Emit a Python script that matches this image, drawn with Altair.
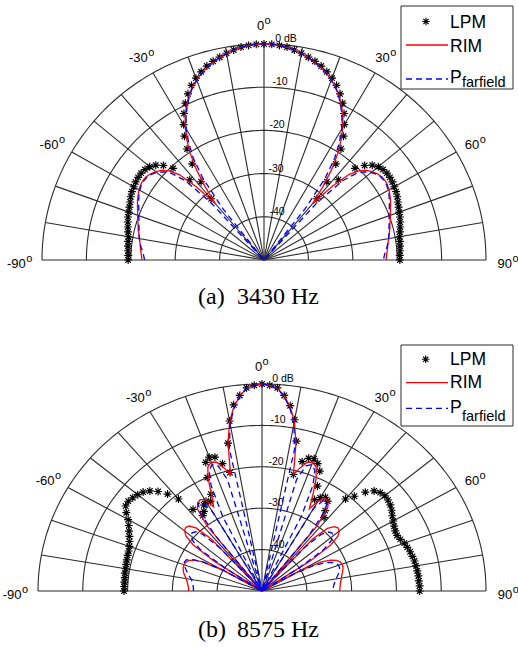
import numpy as np
import pandas as pd
import altair as alt

# ---------------- data (dB vs angle, -90..90 deg, 2 deg steps) ----------------
ANGLES = list(range(-90, 91, 2))

TOP_LPM = [
    -19.4, -19.4, -19.3, -19.2, -19.1, -19.0, -18.7, -18.4, -18.1, -17.8,
    -17.6, -17.3, -17.0, -16.6, -16.3, -16.1, -15.9, -15.8, -15.8, -16.0,
    -16.4, -17.2, -18.5, -20.5, -25.0, -31.5, -27.0, -22.5, -19.0, -16.2,
    -13.8, -11.6, -9.6, -7.9, -6.4, -5.2, -4.2, -3.3, -2.6, -2.0,
    -1.4, -0.9, -0.45, -0.2, -0.05, 0.0, -0.05, -0.2, -0.45, -0.9,
    -1.4, -2.0, -2.6, -3.3, -4.2, -5.2, -6.4, -7.9, -9.6, -11.6,
    -13.8, -16.2, -19.0, -22.5, -27.0, -31.5, -25.0, -20.5, -18.5, -17.2,
    -16.4, -16.0, -15.8, -15.8, -15.9, -16.1, -16.3, -16.6, -17.0, -17.3,
    -17.6, -17.8, -18.1, -18.4, -18.7, -19.0, -19.1, -19.2, -19.3, -19.4,
    -19.4]

TOP_RIM = [
    -22.5, -22.4, -22.2, -22.0, -21.8, -21.5, -21.2, -20.8, -20.5, -20.1,
    -19.7, -19.3, -18.8, -18.3, -17.9, -17.5, -17.2, -17.1, -17.2, -17.6,
    -18.2, -19.0, -20.3, -22.5, -27.0, -33.0, -28.5, -24.0, -20.3, -17.2,
    -14.5, -12.2, -10.2, -8.4, -6.9, -5.6, -4.5, -3.6, -2.8, -2.1,
    -1.5, -0.9, -0.5, -0.2, -0.05, 0.0, -0.05, -0.2, -0.5, -0.9,
    -1.5, -2.1, -2.8, -3.6, -4.5, -5.6, -6.9, -8.4, -10.2, -12.2,
    -14.5, -17.2, -20.3, -24.0, -28.5, -33.0, -27.0, -22.5, -20.3, -19.0,
    -18.2, -17.6, -17.2, -17.1, -17.2, -17.5, -17.9, -18.3, -18.8, -19.3,
    -19.7, -20.1, -20.5, -20.8, -21.2, -21.5, -21.8, -22.0, -22.2, -22.4,
    -22.5]

TOP_PFAR = [
    -23.1, -22.9, -22.6, -22.2, -21.8, -21.5, -21.2, -21.0, -20.7, -20.4,
    -20.0, -19.6, -19.1, -18.6, -18.1, -17.7, -17.4, -17.3, -17.4, -17.8,
    -18.5, -19.5, -21.2, -24.5, -32.0, -50.0, -35.0, -26.5, -21.5, -18.0,
    -15.0, -12.6, -10.5, -8.6, -7.0, -5.7, -4.6, -3.6, -2.8, -2.1,
    -1.5, -0.9, -0.5, -0.2, -0.05, 0.0, -0.05, -0.2, -0.5, -0.9,
    -1.5, -2.1, -2.8, -3.6, -4.6, -5.7, -7.0, -8.6, -10.5, -12.6,
    -15.0, -18.0, -21.5, -26.5, -35.0, -50.0, -32.0, -24.5, -21.2, -19.5,
    -18.5, -17.8, -17.4, -17.3, -17.4, -17.7, -18.1, -18.6, -19.1, -19.6,
    -20.0, -20.4, -20.7, -21.0, -21.2, -21.5, -21.8, -22.2, -22.6, -22.9,
    -23.1]

BOT_LPM = [
    -19.2, -19.2, -19.2, -19.2, -19.1, -19.1, -19.0, -18.9, -18.8, -18.7,
    -18.5, -18.1, -17.6, -17.0, -16.3, -15.5, -14.3, -13.3, -13.1, -13.4,
    -13.8, -14.3, -15.2, -16.6, -18.5, -21.0, -25.0, -27.5, -26.8, -25.5,
    -25.0, -25.5, -24.0, -20.0, -16.5, -15.6, -16.0, -18.0, -20.5, -13.5,
    -8.3, -4.6, -2.5, -0.8, -0.3, 0.0, -0.3, -0.8, -2.5, -4.8,
    -8.0, -13.0, -21.0, -17.5, -16.3, -16.0, -16.8, -18.3, -21.8, -25.0,
    -24.0, -23.3, -23.8, -26.0, -27.5, -21.0, -19.2, -16.8, -15.2, -14.5,
    -14.2, -14.3, -14.6, -15.1, -15.7, -16.2, -16.6, -16.9, -17.0, -16.7,
    -16.2, -15.9, -15.6, -15.4, -15.2, -15.1, -15.0, -14.9, -14.9, -14.8,
    -14.8]

BOT_RIM = [
    -33.6, -33.6, -33.5, -33.3, -33.1, -32.8, -32.4, -32.0, -31.7, -31.5,
    -31.5, -31.6, -32.0, -33.0, -35.0, -40.0, -50.0, -37.0, -31.0, -28.5,
    -27.4, -27.1, -27.4, -28.8, -33.0, -50.0, -30.0, -25.5, -24.3, -24.0,
    -24.5, -27.0, -24.5, -20.5, -17.7, -16.9, -17.3, -19.0, -21.0, -13.5,
    -8.4, -5.0, -2.6, -0.9, -0.3, 0.0, -0.3, -0.9, -2.6, -5.0,
    -8.4, -13.5, -21.0, -19.0, -17.3, -16.9, -17.7, -20.3, -24.0, -27.5,
    -25.0, -23.6, -23.6, -25.0, -30.0, -50.0, -33.0, -29.0, -27.6, -27.2,
    -27.5, -28.5, -31.0, -37.0, -50.0, -40.0, -35.0, -33.0, -31.8, -31.2,
    -31.0, -31.0, -31.2, -31.5, -31.8, -32.0, -32.2, -32.4, -32.5, -32.6,
    -32.7]

BOT_PFAR = [
    -34.7, -34.7, -34.6, -34.5, -34.3, -34.0, -33.5, -33.0, -32.5, -32.0,
    -31.5, -31.3, -31.5, -32.5, -35.0, -40.0, -50.0, -40.0, -33.0, -30.5,
    -29.3, -29.0, -29.4, -31.0, -36.0, -50.0, -33.0, -26.5, -24.5, -24.8,
    -27.5, -50.0, -30.0, -22.0, -18.5, -17.5, -18.2, -22.0, -50.0, -15.0,
    -9.0, -5.3, -2.8, -1.0, -0.3, 0.0, -0.3, -1.0, -2.8, -5.3,
    -9.0, -15.0, -50.0, -22.0, -18.2, -17.5, -18.5, -22.0, -30.0, -50.0,
    -27.0, -24.3, -24.0, -26.0, -33.0, -50.0, -36.0, -31.0, -29.5, -29.0,
    -29.3, -30.5, -33.0, -40.0, -50.0, -42.0, -37.0, -34.5, -33.0, -32.2,
    -31.8, -31.8, -32.0, -32.4, -32.8, -33.2, -33.5, -33.8, -34.0, -34.1,
    -34.2]

RING_DB = [-40, -30, -20, -10, 0]
RING_TEXT = ["-40", "-30", "-20", "-10", "0 dB"]
SPOKES = list(range(-90, 91, 10))
ANGLE_TICKS = [-90, -60, -30, 0, 30, 60, 90]
ANGLE_TEXT = ["-90", "-60", "-30", "0", "30", "60", "90"]
SERIES = ["LPM", "RIM", "P"]
SUBSCRIPT = "farfield"
CAPTION_TAG = ["(a)", "(b)"]
CAPTION_FREQ = ["3430 Hz", "8575 Hz"]

# ---------------- style / layout ----------------
DB_MIN = -50.0
R_MAX = 50.0
R_LABEL = 55.0
GRID = "#2b2b2b"
FONT = "Liberation Sans"
SERIF = "Liberation Serif"
ASTERISK = "M0,-1L0,1M-1,0L1,0M-0.7,-0.7L0.7,0.7M-0.7,0.7L0.7,-0.7"

LAYOUT = [
    dict(W=518, H=318, cx=264, cy=260, sx=4.44, sy=4.32,
         ring_dx=[13, 12, 13, 16, 22],
         box=(401, 513, 6, 89), ast=(426, 21.5), lpm_base=27.5,
         rim_line=45, rim_base=51.5, p_line=79, p_base=82.5, sub_base=87,
         cap_base=304),
    dict(W=518, H=329, cx=262, cy=273, sx=4.48, sy=4.14,
         ring_dx=[15, 14, 14, 16, 21],
         box=(401, 513, 27, 108), ast=(425.7, 41.3), lpm_base=47,
         rim_line=64.7, rim_base=70.3, p_line=90.3, p_base=95, sub_base=102.5,
         cap_base=319),
]


def polar(theta, r):
    t = np.radians(np.asarray(theta, dtype=float))
    r = np.asarray(r, dtype=float)
    return r * np.sin(t), r * np.cos(t)


def curve_frame(db):
    assert len(db) == len(ANGLES)
    r = np.clip(np.asarray(db, dtype=float) - DB_MIN, 0, None)
    x, y = polar(ANGLES, r)
    return pd.DataFrame({"theta": ANGLES, "db": db, "x": x, "y": y})


def text_width(s, size):
    w = 0.0
    for ch in s:
        w += 0.333 if ch == "-" else 0.556
    return w * size


def panel(idx, lpm, rim, pfar, L):
    xs = alt.Scale(domain=[-L["cx"] / L["sx"], (L["W"] - L["cx"]) / L["sx"]],
                   nice=False, zero=False)
    ys = alt.Scale(domain=[(L["cy"] - L["H"]) / L["sy"], L["cy"] / L["sy"]],
                   nice=False, zero=False)

    def X(f="x"):
        return alt.X(f"{f}:Q", scale=xs, axis=None)

    def Y(f="y"):
        return alt.Y(f"{f}:Q", scale=ys, axis=None)

    # grid rings
    t = np.arange(-90, 90.5, 1.0)
    frames = []
    for db in RING_DB:
        x, y = polar(t, np.full_like(t, db - DB_MIN))
        frames.append(pd.DataFrame({"ring": db, "k": np.arange(len(t)), "x": x, "y": y}))
    rings = alt.Chart(pd.concat(frames)).mark_line(color=GRID, strokeWidth=1.1).encode(
        X(), Y(), detail="ring:N", order="k:Q")

    # spokes
    ex, ey = polar(SPOKES, [R_MAX] * len(SPOKES))
    sp = pd.DataFrame({"x0": 0.0, "y0": 0.0, "x1": ex, "y1": ey})
    spokes = alt.Chart(sp).mark_rule(color=GRID, strokeWidth=1.1).encode(
        x=X("x0"), y=Y("y0"), x2="x1:Q", y2="y1:Q")

    # ring labels
    rl = pd.DataFrame({
        "x": [d / L["sx"] for d in L["ring_dx"]],
        "y": [db - DB_MIN for db in RING_DB],
        "t": RING_TEXT})
    ring_text = alt.Chart(rl).mark_text(font=FONT, fontSize=10.5, color="black",
                                        align="center", baseline="middle", dy=-5).encode(
        X(), Y(), text="t:N")

    # angle labels with superscript "o"
    ax, ay = polar(ANGLE_TICKS, [R_LABEL] * len(ANGLE_TICKS))
    ow = 7.0
    px = [a + (text_width(s, 13) - ow) / 2 / L["sx"] for a, s in zip(ax, ANGLE_TEXT)]
    al = pd.DataFrame({"x": px, "y": ay, "t": ANGLE_TEXT, "o": ["o"] * len(ANGLE_TEXT)})
    ang_num = alt.Chart(al).mark_text(font=FONT, fontSize=13, color="black", align="right",
                                      baseline="middle", dy=4, clip=True).encode(X(), Y(), text="t:N")
    ang_o = alt.Chart(al).mark_text(font=FONT, fontSize=11, color="black", align="left",
                                    baseline="middle", dx=0.5, dy=-1, clip=True).encode(X(), Y(), text="o:N")

    # curves
    lpm_l = alt.Chart(curve_frame(lpm)).mark_point(
        shape=ASTERISK, size=64, filled=False, color="black", strokeWidth=1.15, opacity=1).encode(X(), Y())
    rim_l = alt.Chart(curve_frame(rim)).mark_line(color="#ff0000", strokeWidth=1.3).encode(
        X(), Y(), order="theta:Q")
    pfar_l = alt.Chart(curve_frame(pfar)).mark_line(color="#0000ff", strokeWidth=1.3,
                                                    strokeDash=[6, 4]).encode(X(), Y(), order="theta:Q")

    # legend
    one = pd.DataFrame({"k": [0]})
    x0, x1, y0, y1 = L["box"]
    box = alt.Chart(one).mark_rect(fill="white", stroke=GRID, strokeWidth=1).encode(
        x=alt.value(x0), x2=alt.value(x1), y=alt.value(y0), y2=alt.value(y1))
    leg_ast = alt.Chart(one).mark_point(shape=ASTERISK, size=56, filled=False, color="black",
                                        strokeWidth=1.15, opacity=1).encode(
        x=alt.value(L["ast"][0]), y=alt.value(L["ast"][1]))
    leg_rim = alt.Chart(one).mark_rule(color="#ff0000", strokeWidth=1.3).encode(
        x=alt.value(406), x2=alt.value(448), y=alt.value(L["rim_line"]))
    leg_pf = alt.Chart(one).mark_rule(color="#0000ff", strokeWidth=1.3, strokeDash=[6, 4]).encode(
        x=alt.value(406), x2=alt.value(448), y=alt.value(L["p_line"]))

    def ltext(s, xpos, base, size):
        return alt.Chart(one).mark_text(font=FONT, fontSize=size, color="black", align="left",
                                        baseline="alphabetic").encode(
            x=alt.value(xpos), y=alt.value(base), text=alt.value(s))

    t_lpm = ltext(SERIES[0], 450, L["lpm_base"], 17.5)
    t_rim = ltext(SERIES[1], 450, L["rim_base"], 17.5)
    t_p = ltext(SERIES[2], 450, L["p_base"], 17.5)
    t_sub = ltext(SUBSCRIPT, 462, L["sub_base"], 14.5)

    # caption
    def ctext(s, xpos):
        return alt.Chart(one).mark_text(font=SERIF, fontSize=24, color="black", align="left",
                                        baseline="alphabetic").encode(
            x=alt.value(xpos), y=alt.value(L["cap_base"]), text=alt.value(s))

    cap1 = ctext(CAPTION_TAG[idx], 198)
    cap2 = ctext(CAPTION_FREQ[idx], 237)

    return alt.layer(rings, spokes, ring_text, ang_num, ang_o, lpm_l, rim_l, pfar_l,
                     box, leg_ast, leg_rim, leg_pf, t_lpm, t_rim, t_p, t_sub,
                     cap1, cap2).properties(width=L["W"], height=L["H"])


p1 = panel(0, TOP_LPM, TOP_RIM, TOP_PFAR, LAYOUT[0])
p2 = panel(1, BOT_LPM, BOT_RIM, BOT_PFAR, LAYOUT[1])

chart = alt.vconcat(p1, p2, spacing=0).properties(padding=0).configure_view(stroke=None)
chart.save("out.html", embed_options={"renderer": "svg", "actions": False})
